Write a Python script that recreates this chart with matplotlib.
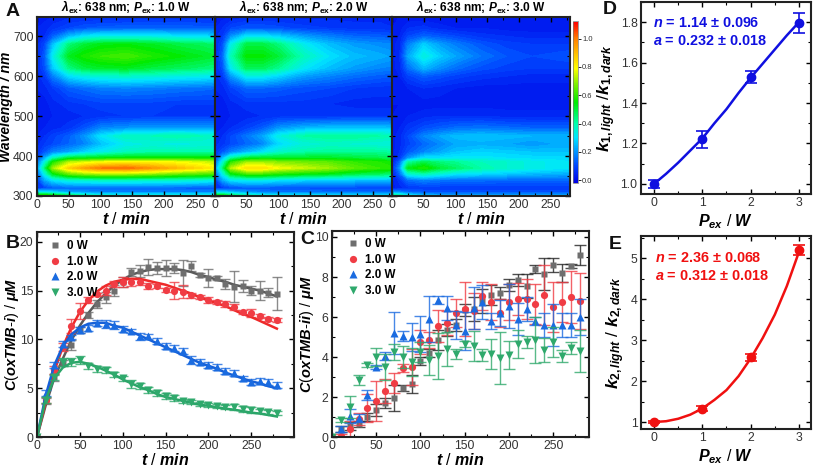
import numpy as np
import matplotlib
matplotlib.use("Agg")
import matplotlib.pyplot as plt
from matplotlib.colors import LinearSegmentedColormap, Normalize
from matplotlib.cm import ScalarMappable
from matplotlib.ticker import MultipleLocator, AutoMinorLocator

plt.rcParams["font.family"] = ["Liberation Sans", "DejaVu Sans"]
plt.rcParams["mathtext.fontset"] = "custom"
plt.rcParams["mathtext.rm"] = "Liberation Sans:bold"
plt.rcParams["mathtext.it"] = "Liberation Sans:italic:bold"
plt.rcParams["mathtext.bf"] = "Liberation Sans:bold"
plt.rcParams["mathtext.bfit"] = "Liberation Sans:italic:bold"

# --- panel A, spectra
map_time = [0, 12, 25, 50, 75, 100, 140, 180, 220, 260, 285]
map_wl = [300, 303, 310, 320, 340, 355, 370, 385, 395, 410, 430, 450, 470, 500,
          530, 570, 600, 620, 650, 680, 700, 720, 750]
map_1w = [
    [.60, .60, .55, .55, .50, .45, .40, .40, .40, .40, .40],
    [.55, .55, .50, .42, .35, .30, .30, .30, .30, .30, .30],
    [.30, .30, .28, .22, .20, .18, .18, .18, .18, .18, .18],
    [.07, .10, .12, .14, .14, .14, .14, .14, .13, .12, .12],
    [.08, .22, .30, .35, .36, .37, .37, .36, .36, .34, .32],
    [.12, .33, .52, .64, .68, .70, .70, .68, .64, .62, .60],
    [.18, .44, .70, .86, .94, 1.0, 1.02, .96, .90, .84, .80],
    [.14, .33, .56, .72, .75, .78, .80, .80, .78, .75, .72],
    [.10, .22, .38, .50, .52, .54, .55, .55, .55, .55, .55],
    [.06, .12, .18, .22, .28, .32, .38, .40, .40, .40, .40],
    [.05, .08, .10, .14, .18, .25, .32, .34, .32, .34, .34],
    [.04, .06, .09, .13, .20, .30, .38, .38, .40, .38, .36],
    [.03, .04, .05, .07, .12, .18, .20, .21, .21, .21, .20],
    [.02, .03, .04, .05, .06, .07, .08, .08, .08, .08, .08],
    [.03, .03, .05, .07, .08, .09, .09, .09, .08, .08, .08],
    [.04, .05, .08, .13, .15, .17, .18, .17, .16, .15, .14],
    [.05, .08, .17, .29, .33, .35, .36, .35, .33, .32, .30],
    [.05, .11, .26, .43, .49, .51, .52, .49, .47, .45, .43],
    [.05, .13, .32, .52, .57, .60, .62, .58, .55, .52, .50],
    [.05, .10, .25, .44, .50, .53, .54, .52, .49, .47, .45],
    [.04, .06, .13, .24, .30, .32, .32, .32, .30, .29, .27],
    [.04, .05, .07, .10, .12, .13, .14, .14, .14, .13, .13],
    [.03, .03, .04, .05, .05, .05, .05, .06, .06, .06, .06],
]
map_2w = [
    [.55, .55, .50, .45, .42, .40, .40, .38, .38, .38, .38],
    [.50, .50, .42, .35, .30, .28, .28, .26, .26, .26, .26],
    [.28, .28, .25, .20, .17, .16, .16, .15, .15, .15, .15],
    [.06, .08, .10, .12, .12, .11, .11, .10, .10, .10, .10],
    [.08, .22, .30, .32, .32, .30, .28, .27, .26, .25, .24],
    [.12, .32, .52, .60, .60, .57, .54, .52, .48, .46, .44],
    [.18, .44, .72, .84, .84, .78, .74, .70, .64, .60, .58],
    [.14, .34, .58, .70, .70, .68, .66, .64, .60, .58, .55],
    [.10, .24, .40, .50, .52, .52, .52, .52, .50, .48, .46],
    [.07, .12, .18, .24, .30, .36, .40, .42, .42, .42, .40],
    [.05, .07, .10, .14, .18, .28, .34, .36, .35, .34, .33],
    [.04, .06, .10, .16, .22, .33, .40, .42, .42, .40, .38],
    [.03, .04, .06, .09, .13, .20, .24, .26, .26, .26, .25],
    [.03, .03, .04, .05, .06, .07, .07, .07, .08, .08, .08],
    [.03, .03, .05, .07, .07, .07, .07, .06, .05, .05, .05],
    [.04, .05, .09, .14, .14, .13, .11, .10, .08, .07, .07],
    [.05, .08, .20, .32, .32, .28, .21, .18, .15, .13, .12],
    [.05, .11, .31, .47, .47, .42, .31, .25, .21, .18, .17],
    [.05, .14, .38, .55, .55, .50, .38, .30, .25, .23, .21],
    [.05, .11, .32, .49, .49, .44, .32, .25, .21, .19, .18],
    [.05, .08, .19, .30, .30, .27, .21, .17, .14, .13, .12],
    [.04, .06, .10, .12, .12, .11, .09, .08, .07, .07, .06],
    [.03, .03, .04, .05, .05, .05, .05, .05, .05, .05, .05],
]
map_3w = [
    [.45, .42, .35, .30, .30, .30, .30, .30, .30, .30, .30],
    [.40, .36, .28, .22, .20, .20, .20, .20, .20, .20, .20],
    [.20, .18, .14, .12, .11, .11, .11, .11, .11, .11, .11],
    [.03, .05, .07, .08, .08, .08, .08, .08, .08, .08, .08],
    [.03, .07, .15, .18, .16, .15, .15, .14, .14, .14, .14],
    [.03, .14, .34, .38, .34, .30, .28, .26, .24, .23, .22],
    [.05, .20, .52, .58, .50, .46, .40, .36, .33, .31, .30],
    [.03, .14, .40, .48, .44, .42, .38, .36, .33, .31, .30],
    [.03, .08, .20, .30, .30, .31, .31, .30, .29, .29, .28],
    [.03, .06, .12, .18, .22, .26, .28, .27, .26, .26, .26],
    [.03, .05, .09, .14, .18, .22, .23, .22, .20, .22, .22],
    [.03, .05, .10, .18, .22, .25, .26, .25, .24, .24, .24],
    [.03, .04, .07, .11, .13, .15, .16, .15, .14, .14, .14],
    [.02, .03, .04, .05, .06, .06, .06, .05, .05, .05, .05],
    [.02, .02, .03, .03, .03, .03, .03, .03, .03, .03, .03],
    [.03, .03, .04, .06, .05, .04, .03, .03, .03, .03, .03],
    [.03, .04, .09, .13, .11, .09, .07, .06, .05, .05, .05],
    [.03, .05, .15, .24, .19, .15, .11, .09, .08, .08, .08],
    [.03, .06, .22, .34, .27, .22, .16, .12, .10, .11, .12],
    [.03, .05, .17, .27, .21, .17, .12, .09, .08, .08, .08],
    [.03, .04, .10, .14, .12, .10, .07, .06, .05, .05, .05],
    [.02, .03, .06, .07, .05, .04, .04, .03, .03, .03, .03],
    [.02, .02, .02, .02, .02, .02, .02, .02, .02, .02, .02],
]
map_titles = ["1.0", "2.0", "3.0"]

# --- panels B and C, every 10 min
t_vals = list(range(0, 290, 10))
power_labels = ["0 W", "1.0 W", "2.0 W", "3.0 W"]

b_0w = [0, 3.7, 6.1, 7.6, 9.4, 11.0, 12.5, 13.6, 14.3, 15.0, 15.9, 16.9, 17.0, 17.4, 17.3,
        17.3, 17.3, 16.8, 17.5, 16.6, 16.3, 16.3, 15.7, 15.4, 15.5, 15.0, 15.0, 14.8, 14.7]
b_1w = [0, 3.8, 6.9, 9.2, 11.4, 12.9, 14.0, 14.6, 15.0, 15.7, 15.9, 15.9, 15.9, 15.5, 15.5,
        15.1, 15.0, 14.9, 14.5, 14.3, 14.0, 13.8, 13.6, 13.3, 12.8, 12.7, 12.4, 12.1, 12.0]
b_2w = [0, 4.5, 7.4, 9.5, 10.2, 11.0, 11.2, 11.7, 11.6, 11.5, 11.1, 10.9, 10.3, 10.3, 9.8,
        9.3, 9.1, 8.8, 7.9, 7.7, 7.4, 7.2, 6.8, 6.6, 6.0, 5.6, 5.7, 5.6, 5.3]
b_3w = [0, 3.8, 6.1, 7.7, 7.7, 7.9, 7.3, 7.0, 6.9, 6.4, 6.0, 5.4, 5.2, 4.8, 4.5,
        4.2, 4.0, 3.7, 3.6, 3.4, 3.3, 3.2, 3.1, 3.1, 2.9, 2.8, 2.7, 2.6, 2.5]
b_0w_err = [0, .3, .4, .3, .5, .3, .3, .4, .6, .6, .5, .4, .6, .8, .6, .8, .5, 1.3, .5, .2,
            .9, .2, .5, 1.6, .6, .5, 1.0, .5, 1.7]
b_1w_err = [0, .3, .4, .4, .7, .8, .3, .2, .5, .3, .5, .4, .3, .3, .2, .2, .9, .7, .3, .2,
            .3, .2, .3, .3, .2, .4, .2, .2, .2]
b_2w_err = [0, .3, .3, .3, .2, .3, .3, .3, .4, .4, .3, .2, .4, .3, .3, .3, .3, .3, .4, .3,
            .3, .3, .3, .3, .3, .3, .3, .3, .3]
b_3w_err = [0, .3, .3, .4, .4, .4, .3, .3, .3, .3, .3, .4, .3, .3, .3, .3, .3, .2, .2, .2,
            .2, .2, .2, .3, .3, .3, .2, .2, .2]
b_0w_fit = [0, 3.2, 6.0, 8.0, 9.9, 11.4, 12.7, 13.8, 14.7, 15.5, 16.1, 16.6, 16.9, 17.1, 17.2,
            17.2, 17.2, 17.1, 16.9, 16.6, 16.4, 16.1, 15.9, 15.6, 15.4, 15.2, 15.0, 14.7, 14.4]
b_1w_fit = [0, 3.5, 6.7, 9.2, 11.2, 12.8, 14.0, 14.9, 15.5, 15.9, 16.1, 16.2, 16.2, 16.0, 15.8,
            15.6, 15.3, 15.0, 14.7, 14.3, 14.0, 13.7, 13.4, 13.0, 12.6, 12.3, 11.9, 11.5, 11.1]
b_2w_fit = [0, 4.2, 7.3, 9.3, 10.5, 11.2, 11.6, 11.7, 11.7, 11.4, 11.2, 10.8, 10.4, 10.0, 9.6,
            9.2, 8.8, 8.4, 8.0, 7.6, 7.3, 7.0, 6.6, 6.3, 6.0, 5.7, 5.5, 5.2, 5.0]
b_3w_fit = [0, 3.8, 6.0, 7.1, 7.6, 7.7, 7.5, 7.2, 6.8, 6.4, 5.9, 5.5, 5.1, 4.8, 4.4,
            4.1, 3.9, 3.7, 3.5, 3.3, 3.2, 3.05, 2.9, 2.8, 2.65, 2.5, 2.4, 2.25, 2.1]

c_0w = [0, .4, .55, .65, 1.0, 1.35, 1.7, 1.95, 2.45, 2.65, 3.8, 4.2, 4.85, 5.35, 5.6,
        6.35, 6.4, 6.8, 7.1, 7.2, 7.6, 7.85, 7.55, 8.4, 8.15, 8.6, 8.2, 8.55, 9.1]
c_1w = [0, .05, .4, .9, 1.45, 1.8, 2.3, 2.7, 3.45, 3.5, 4.75, 4.85, 5.55, 5.7, 6.2,
        6.4, 6.3, 7.05, 6.75, 6.2, 6.75, 6.9, 6.9, 6.65, 7.1, 6.5, 6.75, 7.0, 6.8]
c_2w = [0, .4, 1.05, .95, 2.1, 3.5, 4.05, 5.2, 5.05, 5.0, 5.15, 5.9, 6.85, 6.45, 5.6,
        5.3, 6.45, 6.75, 5.8, 6.2, 6.55, 5.9, 6.4, 5.8, 5.6, 5.6, 5.6, 5.6, 6.0]
c_3w = [0, .85, 1.5, 2.85, 3.6, 4.0, 3.5, 4.25, 4.0, 3.75, 4.25, 3.85, 4.05, 4.4, 4.15,
        4.65, 4.55, 4.1, 4.15, 3.95, 4.1, 4.65, 4.75, 4.85, 4.35, 4.75, 4.05, 4.45, 4.3]
c_0w_err = [0, .15, .2, .15, .2, .3, .25, .65, .15, .45, .2, .2, .5, .3, .3, .3, .6, .6, .5, .3,
            .3, .3, .6, .2, .8, .35, .45, .1, .5]
c_1w_err = [0, .1, .4, .3, .7, 1.0, .6, .5, .2, .9, .6, .4, .8, .6, .7, 1.35, .9, .7, .9, .7,
            .9, .8, 1.0, 1.0, 1.5, 1.25, 1.0, 1.3, 1.4]
c_2w_err = [0, .15, .35, .2, .25, .1, .2, 1.05, .25, .7, .9, 1.15, .2, .6, .7, .95, 1.05, .85,
            .4, .65, 1.1, .8, .6, .2, .6, 1.05, .6, .6, .9]
c_3w_err = [0, .1, .55, .25, .1, .45, .65, .4, .55, .7, .5, .75, 1.15, .85, .25, .15, .75, .3,
            .75, 1.3, .7, .7, .3, 1.15, .6, .75, .3, .3, 1.05]

# --- panels D and E
p_vals = [0, 1, 2, 3]
d_vals = [1.0, 1.22, 1.53, 1.795]
d_err = [.02, .04, .03, .05]
e_vals = [1.0, 1.33, 2.58, 5.2]
e_err = [.03, .07, .09, .13]
p_fit = [0, .25, .5, .75, 1, 1.25, 1.5, 1.75, 2, 2.25, 2.5, 2.75, 3]
d_fit = [1.0, 1.05, 1.105, 1.165, 1.225, 1.30, 1.37, 1.45, 1.525, 1.595, 1.665, 1.735, 1.80]
e_fit = [1.0, 1.02, 1.08, 1.18, 1.33, 1.54, 1.78, 2.12, 2.55, 3.05, 3.62, 4.32, 5.15]

GRAY, RED, BLUE, GREEN = "#6e6e6e", "#f03c44", "#1a6be0", "#2fa96c"
FIT_COLORS = ["#5a5a5a", "#ee2a2a", "#1560d8", "#2aa568"]
TICK_COLOR = "#333333"
W, H = 813, 467

fig = plt.figure(figsize=(W / 100, H / 100), dpi=100)


def axes_px(left, top, right, bottom):
    return fig.add_axes([left / W, 1 - bottom / H, (right - left) / W, (bottom - top) / H])


def style_axes(ax, major_x, major_y, size=8.8, width=1.5):
    ax.xaxis.set_major_locator(MultipleLocator(major_x))
    ax.yaxis.set_major_locator(MultipleLocator(major_y))
    ax.xaxis.set_minor_locator(AutoMinorLocator(2))
    ax.yaxis.set_minor_locator(AutoMinorLocator(2))
    ax.tick_params(which="major", direction="in", top=True, right=True, length=3.5, width=1,
                   labelsize=size, labelcolor=TICK_COLOR, pad=2.5)
    ax.tick_params(which="minor", direction="in", top=True, right=True, length=2, width=.8)
    for side in ax.spines.values():
        side.set_linewidth(width)
        side.set_color("#222222")


def panel_letter(x, y, letter):
    fig.text(x / W, 1 - y / H, letter, fontsize=14, fontweight="bold", va="center", ha="left", color="#111111")


# 1. heatmaps
rainbow = LinearSegmentedColormap.from_list("rainbow_map", [
    (0.0, (0, 0, 0.9)),
    (0.12 / 1.14, (0, 0.27, 1)),
    (0.32 / 1.14, (0, 0.9, 1)),
    (0.42 / 1.14, (0, 1, 0.67)),
    (0.57 / 1.14, (0, 0.92, 0)),
    (0.70 / 1.14, (0.5, 0.94, 0)),
    (0.81 / 1.14, (1, 1, 0)),
    (1.02 / 1.14, (1, 0.5, 0)),
    (1.0, (1, 0, 0)),
])
norm = Normalize(-0.02, 1.12)
levels = np.linspace(-0.02, 1.12, 58)
map_edges = [(37, 215), (215, 392), (392, 570)]
for (x0, x1), grid, pw in zip(map_edges, [map_1w, map_2w, map_3w], map_titles):
    ax = axes_px(x0, 17, x1, 196)
    ax.contourf(map_time, map_wl, grid, levels=levels, cmap=rainbow, norm=norm, extend="both")
    ax.set_xlim(0, 280)
    ax.set_ylim(300, 748)
    style_axes(ax, 50, 100)
    ax.tick_params(axis="both", which="both", color="black")
    ax.set_xticks([0, 50, 100, 150, 200, 250])
    ax.set_xlabel(r"$\mathit{t}$ / $\mathit{min}$", fontsize=11.5, labelpad=0)
    ax.set_title(r"$\mathit{\lambda}_{\mathrm{ex}}$: 638 nm; $\mathit{P}_{\mathrm{ex}}$: " + pw + " W",
                 fontsize=8.6, fontweight="bold", pad=3.5)
    if x0 == 37:
        ax.set_ylabel("Wavelength / nm", fontsize=10, fontweight="bold", style="italic", labelpad=0)
    else:
        ax.tick_params(labelleft=False)

cax = axes_px(573, 21, 578, 183)
fig.colorbar(ScalarMappable(norm, rainbow), cax=cax, ticks=[0, .2, .4, .6, .8, 1.0])
cax.tick_params(labelsize=5.5, length=2, width=.6, pad=1, labelcolor=TICK_COLOR)
cax.set_ylim(-0.02, 1.125)
for side in cax.spines.values():
    side.set_linewidth(.5)
    side.set_color("#777777")

markers = ["s", "o", "^", "v"]
marker_sizes = [4.2, 5.2, 5.8, 5.8]
colors = [GRAY, RED, BLUE, GREEN]

# 2. time courses
ax_b = axes_px(37, 232, 294, 437)
for y, e, fit, m, ms, c, fc, lab in zip([b_0w, b_1w, b_2w, b_3w],
                                        [b_0w_err, b_1w_err, b_2w_err, b_3w_err],
                                        [b_0w_fit, b_1w_fit, b_2w_fit, b_3w_fit],
                                        markers, marker_sizes, colors, FIT_COLORS, power_labels):
    ax_b.errorbar(t_vals, y, yerr=e, fmt="none", ecolor=c, elinewidth=1, capsize=3.5, capthick=1, alpha=.8)
    ax_b.plot(t_vals, fit, color=fc, lw=1.8)
    ax_b.plot(t_vals, y, ls="none", marker=m, ms=ms, mec="none", color=c, label=lab)
ax_b.set_xlim(0, 300)
ax_b.set_ylim(0, 21)
style_axes(ax_b, 50, 5)
ax_b.set_xticks([0, 50, 100, 150, 200, 250])
ax_b.set_xlabel(r"$\mathit{t}$ / $\mathit{min}$", fontsize=11.5, labelpad=0)
ax_b.set_ylabel(r"$\mathit{C}$($\mathit{oxTMB}$-$\mathit{i}$) / $\mathit{\mu M}$", fontsize=10.5, labelpad=-1)

ax_c = axes_px(332, 231, 589, 437)
error_colors = ["#222222", RED, BLUE, GREEN]
for y, e, m, ms, c, ec, lab in zip([c_0w, c_1w, c_2w, c_3w],
                                   [c_0w_err, c_1w_err, c_2w_err, c_3w_err],
                                   markers, marker_sizes, colors, error_colors, power_labels):
    ax_c.errorbar(t_vals, y, yerr=e, fmt="none", ecolor=ec, elinewidth=1, capsize=4, capthick=1, alpha=.8)
    ax_c.plot(t_vals, y, ls="none", marker=m, ms=ms, mec="none", color=c, label=lab)
ax_c.set_xlim(0, 290.5)
ax_c.set_ylim(0, 10.3)
style_axes(ax_c, 50, 2)
ax_c.set_xticks([0, 50, 100, 150, 200, 250])
ax_c.set_xlabel(r"$\mathit{t}$ / $\mathit{min}$", fontsize=11.5, labelpad=0)
ax_c.set_ylabel(r"$\mathit{C}$($\mathit{oxTMB}$-$\mathit{ii}$) / $\mathit{\mu M}$", fontsize=10.5, labelpad=-1)

for ax, anchor in ((ax_b, (0.04, 0.97)), (ax_c, (0.05, 0.975))):
    ax.legend(loc="upper left", bbox_to_anchor=anchor, frameon=False, handlelength=1, handletextpad=.5,
              labelspacing=.3, borderaxespad=0, borderpad=.2, prop={"weight": "bold", "size": 8.4})

# 3. rate ratios
ax_d = axes_px(641, 2, 811, 194)
ax_d.plot(p_fit, d_fit, color="#1010e0", lw=1.8)
ax_d.errorbar(p_vals, d_vals, yerr=d_err, fmt="o", ms=6, color="#1010e0", elinewidth=1.2, capsize=4.3, capthick=1.2)
ax_d.set_xlim(-0.27, 3.25)
ax_d.set_ylim(0.95, 1.9)
style_axes(ax_d, 1, 0.2)
ax_d.set_xlabel(r"$\mathit{P}_{\mathit{ex}}$ / $\mathit{W}$", fontsize=11.5, labelpad=2)
ax_d.set_ylabel(r"$\mathit{k}_{\mathit{1,light}}$ /$\mathit{k}_{\mathit{1,dark}}$", fontsize=12.5, labelpad=1.5)
ax_d.text(0.07, 0.89, r"$\mathit{n}$ = 1.14 ± 0.096", transform=ax_d.transAxes, color="#1010e0",
          fontsize=10.4, fontweight="bold", va="center")
ax_d.text(0.07, 0.797, r"$\mathit{a}$ = 0.232 ± 0.018", transform=ax_d.transAxes, color="#1010e0",
          fontsize=10.4, fontweight="bold", va="center")

ax_e = axes_px(641, 236, 811, 429)
ax_e.plot(p_fit, e_fit, color="#f01010", lw=1.8)
ax_e.errorbar(p_vals, e_vals, yerr=e_err, fmt="o", ms=6, color="#f01010", elinewidth=1.2, capsize=4.3, capthick=1.2)
ax_e.set_xlim(-0.27, 3.25)
ax_e.set_ylim(0.83, 5.54)
style_axes(ax_e, 1, 1)
ax_e.set_xlabel(r"$\mathit{P}_{\mathit{ex}}$ / $\mathit{W}$", fontsize=11.5, labelpad=2)
ax_e.set_ylabel(r"$\mathit{k}_{\mathit{2,light}}$ / $\mathit{k}_{\mathit{2,dark}}$", fontsize=12.5, labelpad=3)
ax_e.text(0.082, 0.886, r"$\mathit{n}$ = 2.36 ± 0.068", transform=ax_e.transAxes, color="#f01010",
          fontsize=10.4, fontweight="bold", va="center")
ax_e.text(0.082, 0.793, r"$\mathit{a}$ = 0.312 ± 0.018", transform=ax_e.transAxes, color="#f01010",
          fontsize=10.4, fontweight="bold", va="center")

panel_letter(6, 11, "A")
panel_letter(6, 243, "B")
panel_letter(300, 240, "C")
panel_letter(603, 10, "D")
panel_letter(609, 245, "E")

fig.savefig("out.png", dpi=100)
